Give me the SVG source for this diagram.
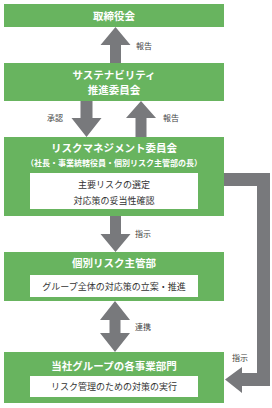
<svg xmlns="http://www.w3.org/2000/svg" width="272" height="408" viewBox="0 0 272 408">
<style>
.box{fill:#68b45f}
.inner{fill:#ffffff}
.arr{fill:#78797c}
.t{font-family:"Noto Sans CJK JP","Noto Sans",sans-serif;font-size:10.5px;font-weight:bold;fill:#ffffff;text-anchor:middle}
.s{font-family:"Noto Sans CJK JP","Noto Sans",sans-serif;font-size:8px;font-weight:bold;fill:#ffffff;text-anchor:middle}
.w{font-family:"Noto Sans CJK JP","Noto Sans",sans-serif;font-size:9px;fill:#333333;text-anchor:middle}
.l{font-family:"Noto Sans CJK JP","Noto Sans",sans-serif;font-size:8px;fill:#444444}
</style>
<rect width="272" height="408" fill="#ffffff"/>
<g id="connectors">
  <polygon class="arr" points="115.5,27 130.5,45 121,45 121,63 110,63 110,45 100.5,45"/>
  <text class="l" x="136" y="49">報告</text>
  <polygon class="arr" points="80.5,101 92.5,101 92.5,118 101.5,118 86.5,137 71.5,118 80.5,118"/>
  <text class="l" x="47" y="121">承認</text>
  <polygon class="arr" points="141,101 156,118 146.5,118 146.5,137 135.5,137 135.5,118 126,118"/>
  <text class="l" x="163" y="121">報告</text>
  <polygon class="arr" points="110,216 121,216 121,234 130.5,234 115.5,252 100.5,234 110,234"/>
  <text class="l" x="135" y="237">指示</text>
  <polygon class="arr" points="115,301 130,320 120.5,320 120.5,333 130,333 115,352 100,333 109.5,333 109.5,320 100,320"/>
  <text class="l" x="135" y="330">連携</text>
  <polygon class="arr" points="224,173 270,173 270,386 242,386 242,393 225,379.5 242,367 242,373 257,373 257,186 224,186"/>
  <text class="l" x="232" y="361">指示</text>
</g>
<g id="board">
  <rect class="box" x="4" y="4" width="220" height="23"/>
  <text class="t" x="114" y="19.5">取締役会</text>
</g>
<g id="sustainability">
  <rect class="box" x="4" y="63" width="220" height="38"/>
  <text class="t" x="114" y="79">サステナビリティ</text>
  <text class="t" x="114" y="94">推進委員会</text>
</g>
<g id="riskmgmt">
  <rect class="box" x="4" y="137" width="220" height="79"/>
  <text class="t" x="114" y="152">リスクマネジメント委員会</text>
  <text class="s" x="114" y="166">（社長・事業統轄役員・個別リスク主管部の長）</text>
  <rect class="inner" x="30" y="173" width="168" height="36"/>
  <text class="w" x="114" y="187.5">主要リスクの選定</text>
  <text class="w" x="114" y="203.5">対応策の妥当性確認</text>
</g>
<g id="individual">
  <rect class="box" x="4" y="252" width="220" height="49"/>
  <text class="t" x="114" y="267">個別リスク主管部</text>
  <rect class="inner" x="30" y="275" width="168" height="22"/>
  <text class="w" x="114" y="289.5">グループ全体の対応策の立案・推進</text>
</g>
<g id="divisions">
  <rect class="box" x="4" y="352" width="220" height="51"/>
  <text class="t" x="114" y="370">当社グループの各事業部門</text>
  <rect class="inner" x="30" y="376" width="168" height="21"/>
  <text class="w" x="114" y="390">リスク管理のための対策の実行</text>
</g>
</svg>
